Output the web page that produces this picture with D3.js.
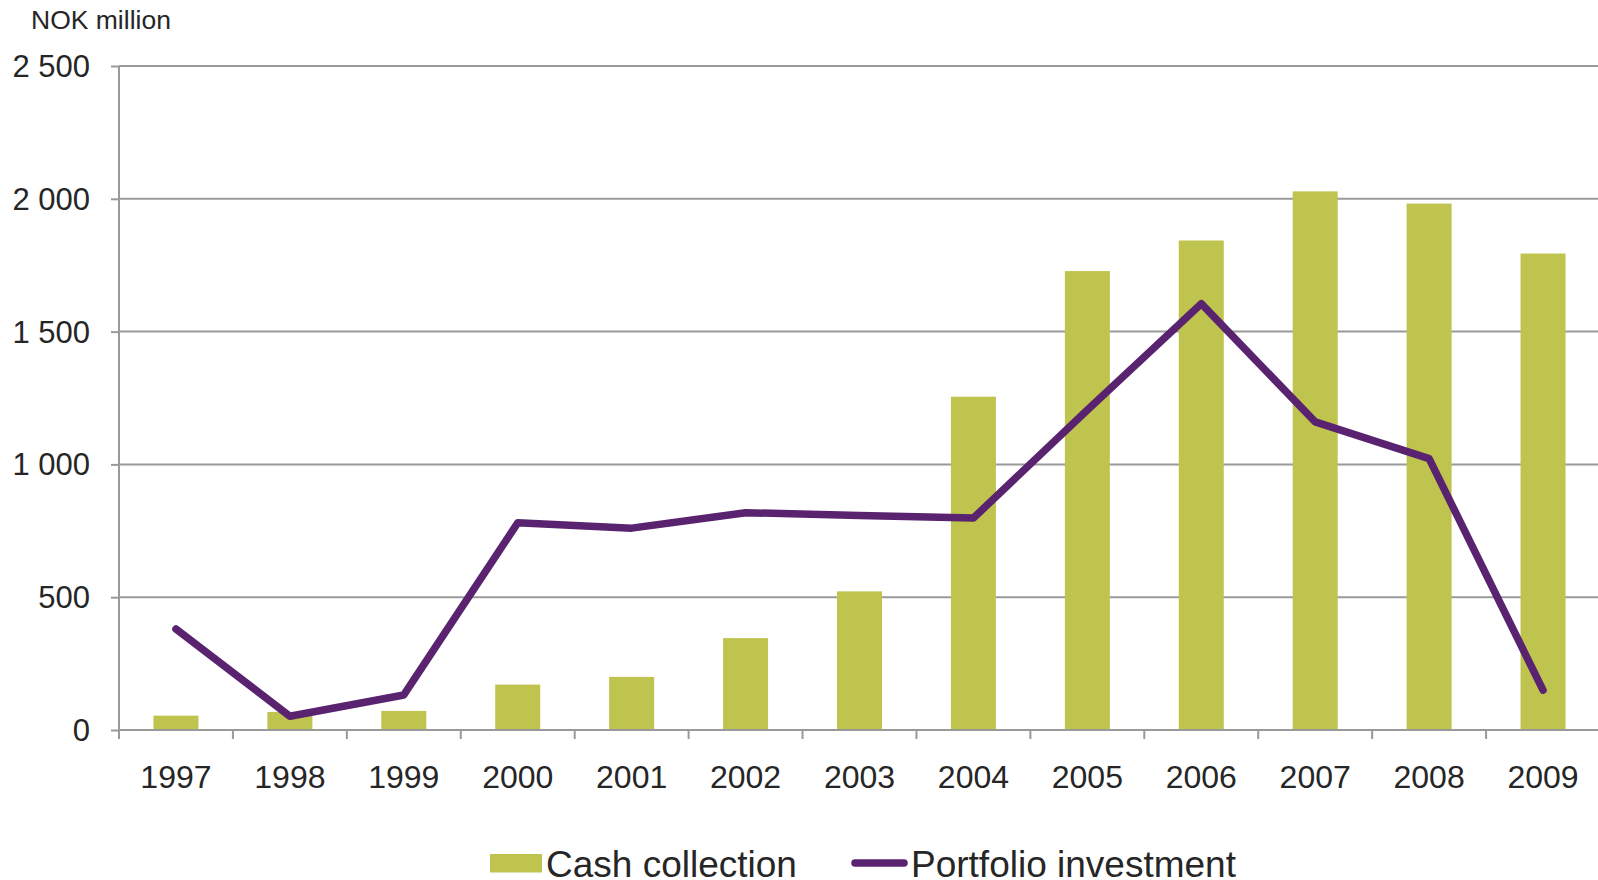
<!DOCTYPE html>
<html>
<head>
<meta charset="utf-8">
<script src="https://cdn.jsdelivr.net/npm/d3@7"></script>
<style>
  html, body { margin: 0; padding: 0; background: #fff; }
  svg { display: block; }
  text { font-family: "Liberation Sans", Arial, sans-serif; fill: #262626; }
</style>
</head>
<body>
<svg id="chart" width="1598" height="880"></svg>
<script>
const years = ["1997","1998","1999","2000","2001","2002","2003","2004","2005","2006","2007","2008","2009"];
const cashCollection = [54, 68, 72, 171, 200, 346, 522, 1255, 1728, 1843, 2028, 1982, 1794];
const portfolioInvestment = [380, 52, 132, 780, 760, 818, 808, 798, 1205, 1605, 1160, 1022, 150];
const yTicks = [0, 500, 1000, 1500, 2000, 2500];
const yTickLabels = ["0", "500", "1 000", "1 500", "2 000", "2 500"];
const unitLabel = "NOK million";
const seriesNames = ["Cash collection", "Portfolio investment"];

(function () {
const barColor = "#bfc44f";
const lineColor = "#5a2370";
const gridColor = "#9a9a9a";

const svg = d3.select("#chart");
const pL = 119, pR = 1600, pT = 66, pB = 730;

const x = d3.scaleBand().domain(years).range([pL, pR]).padding(0);
const y = d3.scaleLinear().domain([0, 2500]).range([pB, pT]);

// gridlines
svg.append("g").selectAll("line").data(yTicks.filter(d => d > 0)).join("line")
  .attr("x1", pL).attr("x2", 1598)
  .attr("y1", d => y(d)).attr("y2", d => y(d))
  .attr("stroke", gridColor).attr("stroke-width", 2);

// y axis
const yAxis = d3.axisLeft(y).tickValues(yTicks).tickSize(8)
  .tickFormat((d, i) => yTickLabels[i]).tickPadding(21);
const gy = svg.append("g").attr("transform", `translate(${pL},0)`).call(yAxis);
gy.select(".domain").remove();
gy.selectAll(".tick line").attr("stroke", gridColor).attr("stroke-width", 2);
gy.selectAll(".tick text").style("font-size", "31px").attr("fill", "#262626")
  .attr("dy", "0.34em")
  .attr("font-family", "Liberation Sans, Arial, sans-serif");
svg.append("line").attr("x1", pL).attr("x2", pL).attr("y1", pT).attr("y2", pB + 9)
  .attr("stroke", gridColor).attr("stroke-width", 2);

// bars
const bw = x.bandwidth() * 0.395;
svg.append("g").selectAll("rect").data(years).join("rect")
  .attr("x", (d) => x(d) + (x.bandwidth() - bw) / 2)
  .attr("width", bw)
  .attr("y", (d, i) => y(cashCollection[i]))
  .attr("height", (d, i) => y(0) - y(cashCollection[i]))
  .attr("fill", barColor);

// x axis
const gx = svg.append("g").attr("transform", `translate(0,${pB})`);
gx.append("line").attr("x1", pL).attr("x2", 1598).attr("y1", 0).attr("y2", 0)
  .attr("stroke", gridColor).attr("stroke-width", 2);
gx.selectAll("line.tk").data(years.slice(1)).join("line").attr("class", "tk")
  .attr("x1", d => x(d)).attr("x2", d => x(d)).attr("y1", 0).attr("y2", 9)
  .attr("stroke", gridColor).attr("stroke-width", 2);
gx.selectAll("text").data(years).join("text")
  .attr("x", d => x(d) + x.bandwidth() / 2).attr("y", 58)
  .attr("text-anchor", "middle").style("font-size", "32px").text(d => d);

// line
const line = d3.line().x((d, i) => x(years[i]) + x.bandwidth() / 2).y(d => y(d));
svg.append("path").datum(portfolioInvestment).attr("d", line)
  .attr("fill", "none").attr("stroke", lineColor).attr("stroke-width", 7.5)
  .attr("stroke-linejoin", "round").attr("stroke-linecap", "round");

// unit label
svg.append("text").attr("x", 31).attr("y", 29).style("font-size", "26.5px").text(unitLabel);

// legend
const lg = svg.append("g");
lg.append("rect").attr("x", 490).attr("y", 854).attr("width", 52).attr("height", 18.5).attr("fill", barColor);
lg.append("text").attr("x", 546).attr("y", 877).style("font-size", "37px").text(seriesNames[0]);
lg.append("line").attr("x1", 855).attr("x2", 904).attr("y1", 863).attr("y2", 863)
  .attr("stroke", lineColor).attr("stroke-width", 7.5).attr("stroke-linecap", "round");
lg.append("text").attr("x", 911).attr("y", 877).style("font-size", "37px").text(seriesNames[1]);
})();
</script>
</body>
</html>
